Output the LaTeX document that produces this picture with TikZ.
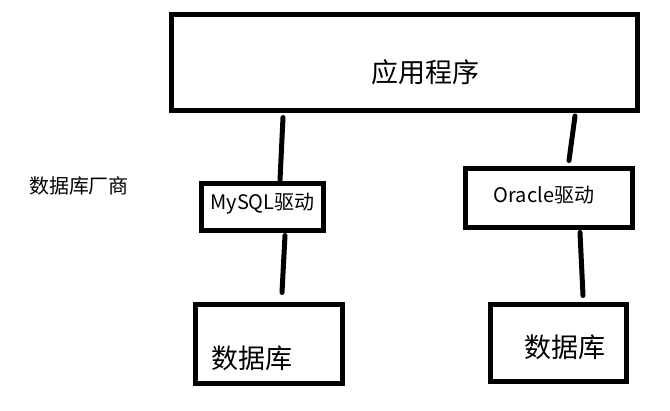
\documentclass[tikz,border=0pt]{standalone}
\usepackage{fontspec}
\setmainfont{Noto Sans CJK SC}
\usepackage{tikz}
\usetikzlibrary{positioning}

\begin{document}
\begin{tikzpicture}[x=1pt, y=-1pt,
  box/.style={draw=black, line width=5pt, fill=white, inner sep=0pt},
  link/.style={draw=black, line width=5pt, line cap=round},
  bigtext/.style={font=\fontsize{27}{32}\selectfont},
  midtext/.style={font=\fontsize{20}{24}\selectfont}]

  \useasboundingbox[fill=white] (0,0) rectangle (670,411);

  % ── application ──
  \node[box, minimum width=466pt, minimum height=96pt,
        label={[bigtext, shift={(21pt,-9pt)}]center:应用程序}] (app) at (404,63) {};

  % ── vendor text ──
  \node[midtext] (vendor) at (79,186) {数据库厂商};

  % ── drivers ──
  \node[box, minimum width=122pt, minimum height=47pt,
        label={[midtext, shift={(0pt,3pt)}]center:MySQL驱动}] (mysql) at (262.5,207) {};
  \node[box, minimum width=167pt, minimum height=59pt,
        label={[midtext, shift={(-5pt,3pt)}]center:Oracle驱动}] (oracle) at (549,198) {};

  % ── databases ──
  \node[box, minimum width=147pt, minimum height=79pt,
        label={[bigtext, shift={(-17pt,-14pt)}]center:数据库}] (dbl) at (269,344) {};
  \node[box, minimum width=136pt, minimum height=77pt,
        label={[bigtext, shift={(6.5pt,-4pt)}]center:数据库}] (dbr) at (558.5,343) {};

  % ── links ──
  \draw[link] ([xshift=-121pt, yshift=-4pt]app.south) -- ([xshift=17.5pt, yshift=1pt]mysql.north);
  \draw[link] ([xshift=22.5pt, yshift=-2.5pt]mysql.south) -- ([xshift=13pt, yshift=9.5pt]dbl.north);
  \draw[link] ([xshift=171pt, yshift=-2.5pt]app.south) -- ([xshift=20pt, yshift=5.5pt]oracle.north);
  \draw[link] ([xshift=31pt, yshift=-2.5pt]oracle.south) -- ([xshift=24.5pt, yshift=6.5pt]dbr.north);

\end{tikzpicture}
\end{document}
